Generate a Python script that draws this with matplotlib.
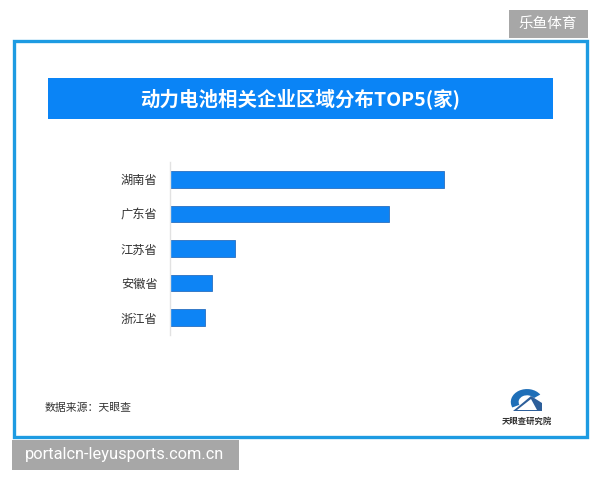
import matplotlib

matplotlib.use("Agg")
import matplotlib.pyplot as plt
from matplotlib.patches import Rectangle, Polygon, Wedge

plt.rcParams["font.family"] = ["Noto Sans CJK SC", "DejaVu Sans"]

# data (no axis values shown; lengths)
provinces = ["湖南省", "广东省", "江苏省", "安徽省", "浙江省"]
counts = [274, 219, 65, 42, 35]

title = "动力电池相关企业区域分布TOP5(家)"
source = "数据来源：天眼查"

W, H = 600, 480
fig = plt.figure(figsize=(W / 100, H / 100), dpi=100)
fig.patch.set_facecolor("white")


def px(x, y):
    # pixel coords (top-left origin) -> figure fraction
    return x / W, 1 - y / H


def rect(x0, y0, x1, y1, **kw):
    fig.patches.append(Rectangle((x0 / W, 1 - y1 / H), (x1 - x0) / W, (y1 - y0) / H,
                                 transform=fig.transFigure, **kw))


# outer blue frame
rect(14, 41, 587, 437, facecolor="none", edgecolor="#1d9be2", linewidth=2.4)

# title banner
rect(48, 78, 553, 119, facecolor="#0a84f6", edgecolor="none")
fig.text(*px(300, 99), title, color="white", fontsize=14, fontweight="bold",
         ha="center", va="center")

# bar chart
ax = fig.add_axes([170 / W, 1 - 335 / H, 300 / W, 173 / H])
ax.barh(range(len(provinces)), counts, height=0.48, color="#0d84f5",
        edgecolor="#2a6fc0", linewidth=0.6)
ax.set_xlim(0, 300)
ax.set_ylim(4.5, -0.5)
ax.set_yticks(range(len(provinces)))
ax.set_yticklabels(provinces, fontsize=8.8, color="#333333")
ax.tick_params(axis="y", length=0, pad=9)
ax.set_xticks([])
ax.set_facecolor("none")
for side in ["top", "right", "bottom"]:
    ax.spines[side].set_visible(False)
ax.spines["left"].set_color("#e2e2e2")
ax.spines["left"].set_linewidth(1.0)

# source note
fig.text(*px(45, 408), source, fontsize=7.8, color="#333333", ha="left", va="center")

# logo
lx, ly = px(527, 402)
fig.patches.append(Wedge((lx, ly), 0.027, 35, 205, width=0.013, facecolor="#1f6fb8",
                         transform=fig.transFigure))
fig.patches.append(Polygon([px(513, 411), px(531, 396), px(542, 403), px(542, 411)],
                           closed=True, facecolor="#2d5f9a", edgecolor="none",
                           transform=fig.transFigure))
fig.patches.append(Polygon([px(517, 410), px(531, 399), px(537, 410)],
                           closed=True, facecolor="white", edgecolor="none",
                           transform=fig.transFigure))
fig.text(*px(527, 421), "天眼查研究院", fontsize=6, color="#333333", ha="center",
         va="center", fontweight="bold")

# watermarks
rect(509, 10, 588, 38, facecolor="#a7a7a7", edgecolor="none")
fig.text(*px(548, 24), "乐鱼体育", fontsize=10.5, color="white", ha="center", va="center")
rect(12, 440, 239, 470, facecolor="#a7a7a7", edgecolor="none")
fig.text(*px(125, 455), "portalcn-leyusports.com.cn", fontsize=11.8, color="white",
         ha="center", va="center", family=["Roboto", "DejaVu Sans"])

fig.savefig("out.png", dpi=100)
plt.close(fig)
